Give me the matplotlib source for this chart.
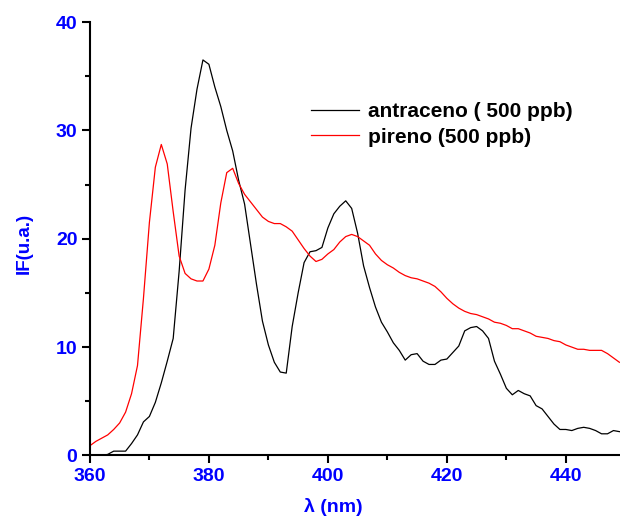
import numpy as np
import matplotlib.pyplot as plt
from matplotlib.ticker import MultipleLocator

plt.rcParams['font.family'] = ['Liberation Sans', 'DejaVu Sans']

# emission spectra, 1 nm steps
wl = np.arange(360, 450)
antraceno = [0.0, 0.0, 0.0, 0.1, 0.4, 0.4, 0.4, 1.1, 1.9, 3.1,
             3.6, 4.9, 6.7, 8.7, 10.8, 17.0, 24.5, 30.2, 33.8, 36.5,
             36.1, 34.0, 32.2, 30.0, 28.1, 25.4, 23.2, 19.5, 15.8, 12.4,
             10.2, 8.6, 7.7, 7.6, 11.9, 15.0, 17.8, 18.8, 18.9, 19.2,
             21.0, 22.3, 23.0, 23.5, 22.8, 20.5, 17.5, 15.5, 13.7, 12.3,
             11.4, 10.4, 9.7, 8.8, 9.3, 9.4, 8.7, 8.4, 8.4, 8.8,
             8.9, 9.5, 10.1, 11.5, 11.8, 11.9, 11.5, 10.8, 8.7, 7.5,
             6.2, 5.6, 6.0, 5.7, 5.5, 4.6, 4.3, 3.6, 2.9, 2.4,
             2.4, 2.3, 2.5, 2.6, 2.5, 2.3, 2.0, 2.0, 2.3, 2.2]
pireno = [0.9, 1.3, 1.6, 1.9, 2.4, 3.0, 4.0, 5.7, 8.3, 14.5,
          21.5, 26.6, 28.7, 26.9, 22.5, 18.4, 16.8, 16.3, 16.1, 16.1,
          17.2, 19.4, 23.3, 26.1, 26.5, 25.1, 24.1, 23.4, 22.7, 22.0,
          21.6, 21.4, 21.4, 21.1, 20.7, 19.9, 19.1, 18.4, 17.9, 18.1,
          18.6, 19.0, 19.7, 20.2, 20.4, 20.2, 19.8, 19.4, 18.6, 18.0,
          17.6, 17.3, 16.9, 16.6, 16.4, 16.3, 16.1, 15.9, 15.6, 15.1,
          14.5, 14.0, 13.6, 13.3, 13.1, 13.0, 12.8, 12.6, 12.3, 12.2,
          12.0, 11.7, 11.7, 11.5, 11.3, 11.0, 10.9, 10.8, 10.6, 10.5,
          10.2, 10.0, 9.8, 9.8, 9.7, 9.7, 9.7, 9.4, 9.0, 8.6]

fig = plt.figure(figsize=(6.2, 5.18), dpi=100)
ax = fig.add_axes([0.145, 0.1207, 0.855, 0.8368])

ax.plot(wl, antraceno, color='black', lw=0.9, label='antraceno ( 500 ppb)')
ax.plot(wl, pireno, color='red', lw=0.9, label='pireno (500 ppb)')

ax.set_xlim(360, 449.1)
ax.set_ylim(0, 40)
ax.xaxis.set_major_locator(MultipleLocator(20))
ax.xaxis.set_minor_locator(MultipleLocator(10))
ax.yaxis.set_major_locator(MultipleLocator(10))
ax.yaxis.set_minor_locator(MultipleLocator(5))

for side in ['top', 'right']:
    ax.spines[side].set_visible(False)
for side in ['left', 'bottom']:
    ax.spines[side].set_linewidth(1.5)
ax.tick_params(which='major', direction='out', length=6, width=1.5,
               labelsize=14, labelcolor='blue', pad=3)
ax.tick_params(which='minor', direction='out', length=3.5, width=1.5)
for lbl in ax.get_xticklabels() + ax.get_yticklabels():
    lbl.set_fontweight('bold')

ax.set_xlabel('λ (nm)', color='blue', fontweight='bold', fontsize=14)
ax.set_ylabel('IF(u.a.)', color='blue', fontweight='bold', fontsize=13.5)
ax.xaxis.set_label_coords(0.46, -0.098)
ax.yaxis.set_label_coords(-0.107, 0.49)

leg = ax.legend(loc='upper left', bbox_to_anchor=(0.3825, 0.858), frameon=False,
                prop={'weight': 'bold', 'size': 15}, handlelength=2.3,
                handletextpad=0.4, labelspacing=0.3)

fig.savefig('out.png', dpi=100)
